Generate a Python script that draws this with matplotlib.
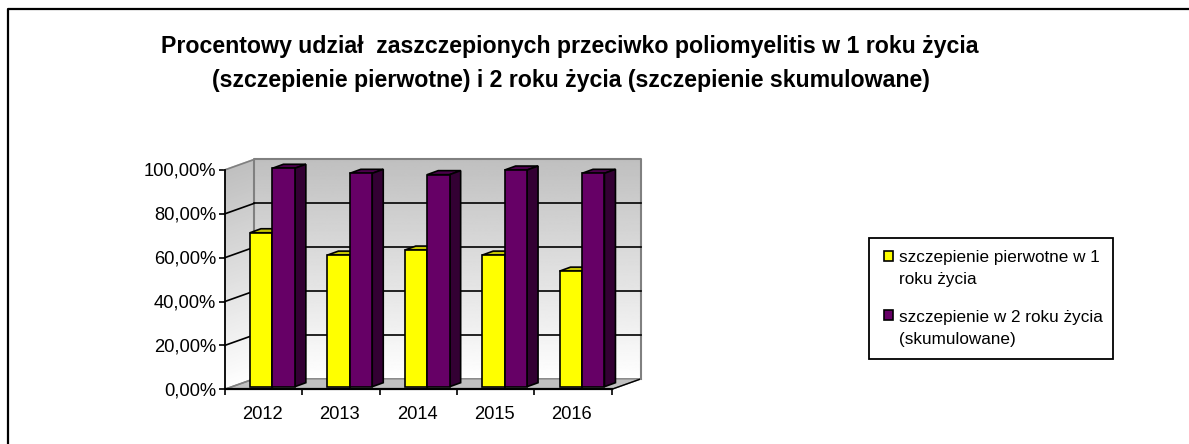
import numpy as np
import matplotlib
matplotlib.use('Agg')
import matplotlib.pyplot as plt
from matplotlib.patches import Polygon, Rectangle
from matplotlib.transforms import Affine2D

years = ['2012', '2013', '2014', '2015', '2016']
pierwotne = [70.2, 60.0, 62.3, 60.0, 52.7]
skumulowane = [99.6, 97.3, 96.7, 98.8, 97.3]
yticks = [0, 20, 40, 60, 80, 100]
ylabels = ['0,00%', '20,00%', '40,00%', '60,00%', '80,00%', '100,00%']
title1 = 'Procentowy udział  zaszczepionych przeciwko poliomyelitis w 1 roku życia'
title2 = '(szczepienie pierwotne) i 2 roku życia (szczepienie skumulowane)'
legend1 = 'szczepienie pierwotne w 1\nroku życia'
legend2 = 'szczepienie w 2 roku życia\n(skumulowane)'

W, H = 1189, 444
plt.rcParams['font.family'] = ['Liberation Sans', 'DejaVu Sans']

fig = plt.figure(figsize=(W/100, H/100), dpi=100)

# background layer in pixel coords, y down
bg = fig.add_axes([0, 0, 1, 1])
bg.set_xlim(0, W)
bg.set_ylim(H, 0)
bg.axis('off')
# only top and left of the frame are visible in the reference
bg.plot([7.5, 7.5, W], [H, 9, 9], color='black', lw=1.6, solid_capstyle='butt')

# front plane of the fake 3d box
left, right, y0, y100 = 224.7, 611.7, 389.3, 170.0
ax = fig.add_axes([left/W, 1-y0/H, (right-left)/W, (y0-y100)/H])
ax.set_xlim(0, 5)
ax.set_ylim(0, 100)
ax.patch.set_alpha(0)
for s in ['top', 'right']:
    ax.spines[s].set_visible(False)
ax.spines['left'].set_linewidth(1.3)
ax.spines['bottom'].set_linewidth(1.6)
ax.set_xticks(range(6))
ax.set_xticklabels([])
ax.set_yticks(yticks)
ax.set_yticklabels(ylabels, fontsize=13.2)
ax.tick_params(axis='y', length=4, width=1.2, pad=2)
ax.tick_params(axis='x', length=4, width=1.2)
for lab in ax.get_yticklabels():
    lab.set_verticalalignment('center')
    lab.set_y(lab.get_position()[1])
    lab.set_transform(lab.get_transform() + Affine2D().translate(0, -1.5))
for i, y in enumerate(years):
    ax.text(i+0.485, -7.6, y, ha='center', va='top', fontsize=13.2)

# pixel offsets in display space (dpi 100 so 1 display px = 1 image px)
wall_dx, wall_dy = 29.5, 10.5
wall = ax.transData + Affine2D().translate(wall_dx, wall_dy)
bars_front = ax.transData + Affine2D().translate(9, 2.6)

# gradient back wall
grad = np.linspace(0.75, 1.0, 256).reshape(-1, 1)
ax.imshow(grad, extent=(0, 5, 0, 100), origin='upper', cmap='gray', vmin=0, vmax=1,
          aspect='auto', transform=wall, zorder=1, clip_on=False)
ax.set_xlim(0, 5)
ax.set_ylim(0, 100)

# side wall, same gradient in strips
ups = ax.transData.transform([(0, v) for v in np.linspace(0, 100, 121)])
for k in range(120):
    (x, y1), (_, y2) = ups[k], ups[k+1]
    shade = 1.0 - 0.25*(k+0.5)/120
    ax.add_patch(Polygon([(x, y1), (x, y2+1), (x+wall_dx, y2+1+wall_dy), (x+wall_dx, y1+wall_dy)],
                         closed=True, transform=None, fc=(shade, shade, shade), ec='none',
                         zorder=1, clip_on=False))

# floor
pts = ax.transData.transform([(0, 0), (5, 0)])
ax.add_patch(Polygon([pts[0], pts[1], pts[1]+[wall_dx, wall_dy], pts[0]+[wall_dx, wall_dy]],
                     closed=True, transform=None, fc='#c0c0c0', ec='#808080', lw=1.0,
                     zorder=1.5, clip_on=False))
ax.plot([pts[1][0], pts[1][0]+wall_dx], [pts[1][1], pts[1][1]+wall_dy], transform=None,
        color='black', lw=1.0, zorder=1.6, clip_on=False)

# wall border and grid
ax.plot([0, 0, 5, 5], [0, 100, 100, 0], transform=wall, color='#808080', lw=1.5, zorder=2, clip_on=False)
for v in yticks[1:-1]:
    ax.plot([0, 5], [v, v], transform=wall, color='black', lw=1.2, zorder=2, clip_on=False)
for v in yticks:
    p = ax.transData.transform((0, v))
    c = '#808080' if v in (0, 100) else 'black'
    ax.plot([p[0], p[0]+wall_dx], [p[1], p[1]+wall_dy], transform=None, color=c, lw=1.2,
            zorder=2, clip_on=False)

# bars
bw = 0.29
depth_x, depth_y = 11, 4
def draw_bars(xs, vals, face, side, top, z):
    ax.bar(xs, vals, width=bw, color=face, edgecolor='black', linewidth=1.2,
           transform=bars_front, zorder=z+0.2, clip_on=False)
    for x, v in zip(xs, vals):
        a = bars_front.transform((x-bw/2, v))
        b = bars_front.transform((x+bw/2, v))
        c = bars_front.transform((x+bw/2, 0))
        d = np.array([depth_x, depth_y])
        ax.add_patch(Polygon([a, b, b+d, a+d], closed=True, transform=None, fc=top, ec='black',
                             lw=1.2, zorder=z, clip_on=False))
        ax.add_patch(Polygon([b, c, c+d, b+d], closed=True, transform=None, fc=side, ec='black',
                             lw=1.2, zorder=z, clip_on=False))

xpos = np.arange(5) + 0.5
draw_bars(xpos-bw/2, pierwotne, '#ffff00', '#808000', '#c6c600', 3)
draw_bars(xpos+bw/2, skumulowane, '#660066', '#330033', '#4c004c', 4)

fig.text(570/W, 1-46/H, title1, ha='center', va='center', fontsize=16.7, fontweight='bold')
fig.text(571/W, 1-81/H, title2, ha='center', va='center', fontsize=16.7, fontweight='bold')

# legend box drawn by hand to match wrapped labels
bg.add_patch(Rectangle((869, 238), 244, 121, fc='white', ec='black', lw=1.3))
bg.add_patch(Rectangle((883.5, 250.5), 9.5, 10, fc='#ffff00', ec='black', lw=1.2))
bg.add_patch(Rectangle((883.5, 309.5), 9.5, 10, fc='#660066', ec='black', lw=1.2))
bg.text(899, 268.5, legend1, va='center', ha='left', fontsize=12.35, linespacing=1.6)
bg.text(899, 328.5, legend2, va='center', ha='left', fontsize=12.35, linespacing=1.6)

fig.savefig('out.png', dpi=100)
